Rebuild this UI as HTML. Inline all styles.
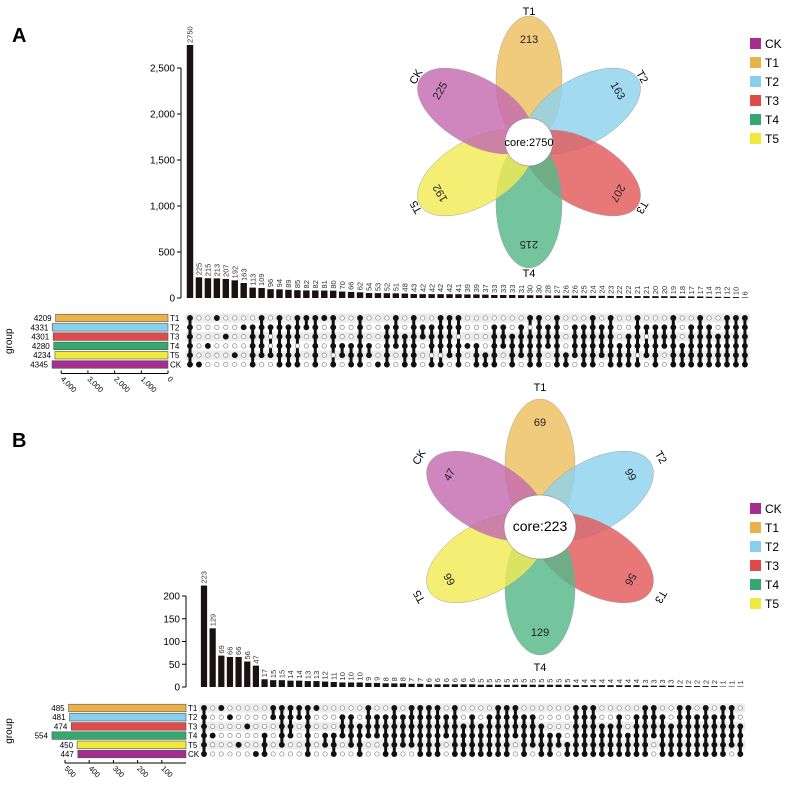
<!DOCTYPE html>
<html><head><meta charset="utf-8"><style>
body{margin:0;background:#fff}
svg{display:block;font-family:"Liberation Sans",Arial,sans-serif}
</style></head><body>
<svg id="fig" width="787" height="785" viewBox="0 0 787 785">
<text x="12" y="42" font-size="20" font-weight="bold">A</text>
<text x="12" y="447" font-size="20" font-weight="bold">B</text>
<g id="A"></g><g id="B"></g>
</svg>
<script>
const NS="http://www.w3.org/2000/svg";
const setNames=["T1","T2","T3","T4","T5","CK"];
const legendOrder=["CK","T1","T2","T3","T4","T5"];
const colors={CK:"#A42E8E",T1:"#E9B24B",T2:"#87CFEA",T3:"#E04A4A",T4:"#34A86E",T5:"#F1E83E"};
const petalFill={CK:"#C56AB0",T1:"#EDBF5E",T2:"#8ED2EE",T3:"#E35A5A",T4:"#55B789",T5:"#F1EA55"};
// Panel A data
const barsA=[2750,225,215,213,207,192,163,113,109,96,94,89,85,82,82,81,80,70,66,62,54,53,52,51,48,43,42,42,42,42,41,39,39,37,33,33,33,31,30,30,28,27,26,26,25,24,24,23,22,22,21,21,20,20,19,18,17,17,14,13,12,10,6];
const setSizesA=[4209,4331,4301,4280,4234,4345];
const ticksA=[0,500,1000,1500,2000,2500];
const leftTicksA=[4000,3000,2000,1000,0];
const matrixA=["111111","000001","000100","100000","001000","000010","010000","011111","111110","010010","111111","011111","111011","110000","111111","100000","111101","000110","000111","111111","000110","000001","011111","111100","001111","111111","011000","011101","111101","111110","110111","000100","000111","000011","011111","011100","001111","011110","101111","111111","011100","111111","000011","011110","011111","111111","011110","111111","000111","001111","111101","010110","011111","011100","111111","000111","011111","111111","011111","001111","111111","111111","111111"];
const vennA=[213,163,207,215,192,225];
const coreA=2750;
// Panel B data
const barsB=[223,129,69,66,66,56,47,17,15,15,14,14,13,13,12,11,10,10,10,9,9,8,8,8,7,7,6,6,6,6,6,6,5,5,5,5,5,5,5,5,5,5,5,4,4,4,4,4,4,4,4,3,3,3,3,2,2,2,2,2,1,1,1];
const setSizesB=[485,481,474,554,450,447];
const ticksB=[0,50,100,150,200];
const leftTicksB=[500,400,300,200,100];
const matrixB=["111111","000100","100000","010000","000010","001000","000001","000111","110000","111110","111100","110000","111111","100000","000110","000111","011100","011110","001111","111100","011100","011111","111111","011110","111110","111111","111111","111111","011100","111111","001111","011111","001111","011111","111111","111111","111100","011111","011110","001111","000111","000110","000011","111111","111111","111111","001111","001111","011111","000111","011111","111111","111100","011111","001111","111111","111111","011111","111111","011111","111111","111110","001111"];
const vennB=[69,99,56,129,66,47];
const coreB=223;

function el(tag,attrs,parent,txt){const e=document.createElementNS(NS,tag);for(const k in attrs)e.setAttribute(k,attrs[k]);if(txt!==undefined)e.textContent=txt;parent.appendChild(e);return e;}
function fmt(v){return v>=1000?v.toLocaleString("en-US"):String(v);}

function upset(g,cfg,bars,sizes,ticks,leftTicks,matrix){
  const yS=v=>cfg.base-(v/cfg.vmax)*(cfg.base-cfg.top);
  const xS=i=>cfg.x0+i*cfg.step;
  const ax=el("line",{x1:cfg.axX,x2:cfg.axX,y1:yS(ticks[ticks.length-1]),y2:cfg.base,stroke:"#000","stroke-width":1},g);
  
  ticks.forEach(t=>{
    const tl=el("line",{x1:cfg.axX-4,x2:cfg.axX,y1:yS(t),y2:yS(t),stroke:"#000"},g);
    
    const tx=el("text",{x:cfg.axX-6,y:yS(t)+3.5,"font-size":10,"text-anchor":"end"},g,fmt(t));
    
  });
  const bw=cfg.step*0.72;
  bars.forEach((v,i)=>{
    const r=el("rect",{x:xS(i)-bw/2,y:yS(v),width:bw,height:cfg.base-yS(v),fill:"#1a1212"},g);
    
    const tx=el("text",{x:0,y:0,"font-size":7.5,fill:"#333",transform:`translate(${xS(i)+2.6},${yS(v)-2}) rotate(-90)`},g,String(v));
    
  });
  const rowY=j=>cfg.my0+j*cfg.mstep;
  [0,2,4].forEach(j=>{
    const s=el("rect",{x:cfg.x0-5,y:rowY(j)-cfg.mstep/2,width:xS(bars.length-1)-cfg.x0+10,height:cfg.mstep,fill:"#ececec"},g);
    
  });
  matrix.forEach((m,i)=>{
    const on=[];for(let j=0;j<6;j++)if(m[j]==="1")on.push(j);
    if(on.length>1){
      const l=el("line",{x1:xS(i),x2:xS(i),y1:rowY(on[0]),y2:rowY(on[on.length-1]),stroke:"#111","stroke-width":3},g);
      
    }
    for(let j=0;j<6;j++){
      const f=m[j]==="1";
      const c=el("circle",{cx:xS(i),cy:rowY(j),r:f?2.6:2.2,fill:f?"#111":"#fff",stroke:f?"#111":"#888","stroke-width":0.7},g);
      
    }
  });
  const sx=v=>cfg.lRight-v*cfg.lScale;
  setNames.forEach((n,j)=>{
    const r=el("rect",{x:sx(sizes[j]),y:rowY(j)-3.8,width:sizes[j]*cfg.lScale,height:7.6,fill:colors[n],stroke:"#555","stroke-width":0.6},g);
    
    const t=el("text",{x:sx(sizes[j])-4,y:rowY(j)+3,"font-size":8,"text-anchor":"end"},g,String(sizes[j]));
    
    const rl=el("text",{x:cfg.lRight+2,y:rowY(j)+3,"font-size":8},g,n);
    
  });
  const ay=rowY(5)+9;
  const la=el("line",{x1:sx(leftTicks[0]),x2:cfg.lRight,y1:ay,y2:ay,stroke:"#000"},g);
  
  leftTicks.forEach(t=>{
    const tl=el("line",{x1:sx(t),x2:sx(t),y1:ay-3,y2:ay,stroke:"#000"},g);
    
    const tx=el("text",{x:0,y:0,"font-size":7.5,transform:`translate(${sx(t)-1},${ay+6}) rotate(45)`},g,fmt(t));
    
  });
  const gl=el("text",{x:0,y:0,"font-size":10,"text-anchor":"middle",transform:`translate(${cfg.gX},${rowY(2.5)}) rotate(-90)`},g,"group");
  
}

function venn(g,cfg,vals,core){
  const ang=[0,60,120,180,240,300];
  setNames.forEach((n,i)=>{
    const e=el("ellipse",{cx:cfg.cx,cy:cfg.cy-cfg.d,rx:cfg.rx,ry:cfg.ry,fill:petalFill[n],"fill-opacity":0.82,stroke:"#999","stroke-width":0.4,transform:`rotate(${ang[i]},${cfg.cx},${cfg.cy})`},g);
    
  });
  setNames.forEach((n,i)=>{
    const a=ang[i]*Math.PI/180;
    const px=cfg.cx+Math.sin(a)*cfg.nd, py=cfg.cy-Math.cos(a)*cfg.nd;
    let rot=ang[i]; if(rot===180&&cfg.flipBottom)rot=0;
    const t=el("text",{x:0,y:0,"font-size":11,"text-anchor":"middle",fill:"#222",transform:`translate(${px},${py}) rotate(${rot}) translate(0,4)`},g,String(vals[i]));
    
    const lx=cfg.cx+Math.sin(a)*cfg.ld, ly=cfg.cy-Math.cos(a)*cfg.ld;
    let lr=ang[i]; if(lr===180)lr=0;
    const l=el("text",{x:0,y:0,"font-size":11,"text-anchor":"middle",transform:`translate(${lx},${ly}) rotate(${lr}) translate(0,4)`},g,n);
    
  });
  const c=el("ellipse",{cx:cfg.cx,cy:cfg.cy,rx:cfg.cr,ry:cfg.cry,fill:"#fff",stroke:"#777","stroke-width":0.5},g);
  
  const ct=el("text",{x:cfg.cx,y:cfg.cy+4,"font-size":cfg.fs,"text-anchor":"middle"},g,"core:"+core);
  
}

function legend(g,x,y0){
  legendOrder.forEach((n,i)=>{
    const r=el("rect",{x:x,y:y0+i*19-5,width:11,height:11,fill:colors[n]},g);
    
    const t=el("text",{x:x+15,y:y0+i*19+5,"font-size":12},g,n);
    
  });
}

const gA=document.getElementById("A"),gB=document.getElementById("B");
upset(gA,{base:298,top:68,vmax:2500,axX:181,x0:190,step:8.95,my0:318,mstep:9.3,lRight:168,lScale:0.0267,gX:12},barsA,setSizesA,ticksA,leftTicksA,matrixA);
venn(gA,{cx:529,cy:142,d:62,rx:33,ry:64,nd:103,ld:131,cr:24,cry:24,fs:11,flipBottom:false},vennA,coreA);
legend(gA,750,43);
upset(gB,{base:687,top:596,vmax:200,axX:186,x0:204,step:8.65,my0:708,mstep:9.2,lRight:186,lScale:0.242,gX:12},barsB,setSizesB,ticksB,leftTicksB,matrixB);
venn(gB,{cx:540,cy:527,d:62,rx:35,ry:66,nd:105,ld:140,cr:36,cry:32,fs:14,flipBottom:true},vennB,coreB);
legend(gB,750,508);
</script>
</body></html>
